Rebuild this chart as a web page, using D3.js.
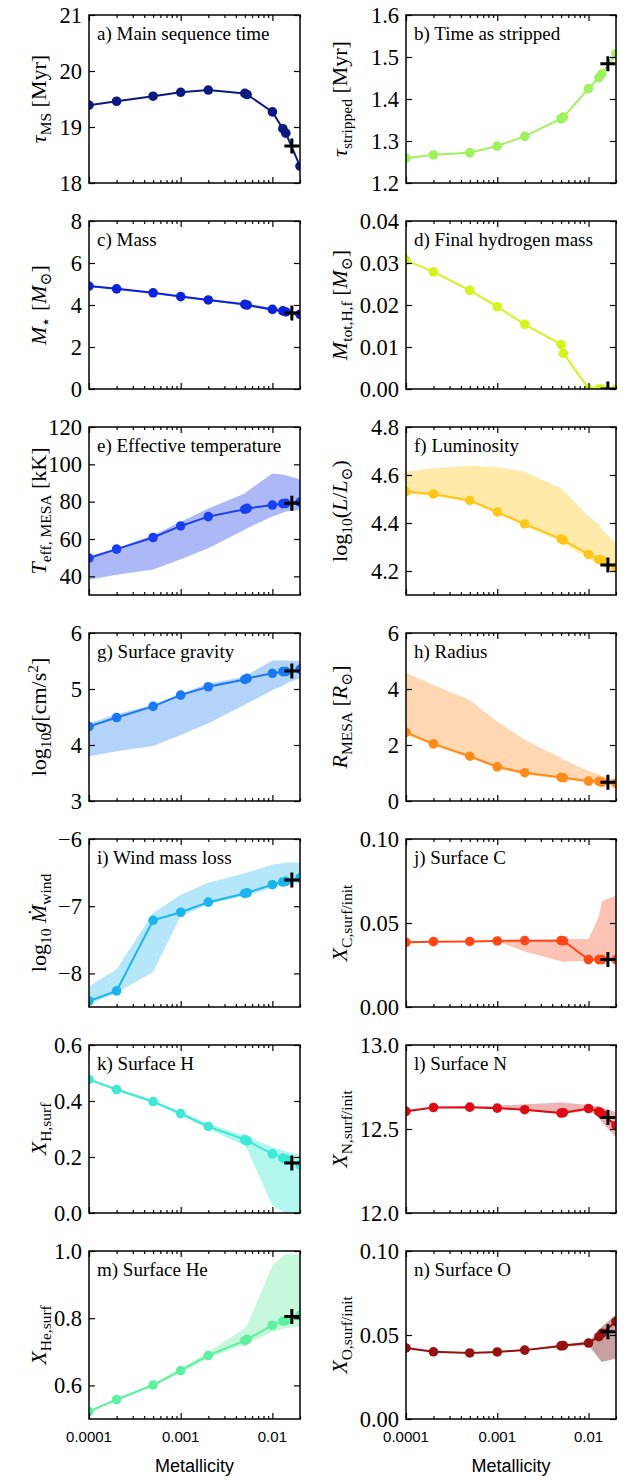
<!DOCTYPE html>
<html>
<head>
<meta charset="utf-8">
<script src="https://d3js.org/d3.v7.min.js"></script>
<style>
  body { margin: 0; background: #fff; }
  svg text { fill: #000; }
</style>
</head>
<body>
<svg id="chart"></svg>
<script>
// metallicities of the model grid, and of the reference model (the black plus)
var metallicity = [0.0001, 0.0002, 0.0005, 0.001, 0.002, 0.005, 0.0053, 0.01, 0.013, 0.014, 0.02],
    zRef = 0.0163;

var tauMS       = [19.39, 19.46, 19.55, 19.62, 19.66, 19.60, 19.58, 19.27, 18.97, 18.89, 18.30];
var tauStripped = [1.259, 1.267, 1.272, 1.288, 1.311, 1.353, 1.357, 1.425, 1.451, 1.460, 1.508];

var mass   = [4.90, 4.77, 4.58, 4.40, 4.24, 4.03, 4.00, 3.79, 3.72, 3.67, 3.56],
    massLo = [4.86, 4.73, 4.54, 4.36, 4.19, 3.97, 3.94, 3.72, 3.64, 3.58, 3.45],
    massHi = [4.94, 4.81, 4.62, 4.44, 4.29, 4.09, 4.06, 3.86, 3.80, 3.76, 3.67];

var mHfinal = [0.0307, 0.0279, 0.0235, 0.0196, 0.0154, 0.0106, 0.0085, 0.0001, 0.0, 0.0, 0.0];

var tEff   = [49.8, 54.6, 60.8, 67.0, 72.0, 75.9, 76.4, 78.2, 78.9, 79.1, 79.8],
    tEffLo = [38.2, 40.8, 43.6, 49.2, 55.1, 64.9, 65.8, 72.0, 74.0, 74.7, 75.6],
    tEffHi = [50.7, 55.0, 62.0, 69.3, 76.4, 84.4, 85.5, 95.1, 94.5, 94.2, 92.0];

var logL   = [4.531, 4.521, 4.494, 4.446, 4.396, 4.334, 4.329, 4.269, 4.248, 4.244, 4.215],
    logLLo = [4.521, 4.512, 4.486, 4.438, 4.386, 4.322, 4.316, 4.250, 4.228, 4.222, 4.186],
    logLHi = [4.614, 4.628, 4.639, 4.632, 4.614, 4.545, 4.535, 4.428, 4.395, 4.372, 4.317];

var logg   = [4.33, 4.49, 4.69, 4.89, 5.04, 5.17, 5.19, 5.28, 5.31, 5.31, 5.35],
    loggLo = [3.80, 3.89, 3.98, 4.18, 4.39, 4.72, 4.74, 4.98, 5.06, 5.10, 5.19],
    loggHi = [4.39, 4.55, 4.72, 4.92, 5.10, 5.22, 5.25, 5.51, 5.51, 5.51, 5.50];

var radius   = [2.45, 2.04, 1.60, 1.22, 1.01, 0.85, 0.83, 0.71, 0.70, 0.67, 0.63],
    radiusLo = [2.37, 1.97, 1.54, 1.15, 0.95, 0.78, 0.76, 0.65, 0.62, 0.60, 0.50],
    radiusHi = [4.58, 4.14, 3.61, 2.84, 2.19, 1.54, 1.48, 1.07, 0.95, 0.89, 0.77];

var mdot   = [-8.41, -8.26, -7.21, -7.09, -6.94, -6.81, -6.80, -6.68, -6.64, -6.63, -6.58],
    mdotLo = [-8.46, -8.29, -7.98, -7.15, -6.97, -6.85, -6.84, -6.73, -6.69, -6.68, -6.65],
    mdotHi = [-8.19, -7.94, -7.10, -6.83, -6.65, -6.51, -6.50, -6.38, -6.36, -6.35, -6.35];

var xC   = [0.0385, 0.0389, 0.0390, 0.0393, 0.0395, 0.0395, 0.0394, 0.0282, 0.0282, 0.0282, 0.0282],
    xCLo = [0.0385, 0.0389, 0.0390, 0.0390, 0.0331, 0.0272, 0.0270, 0.0275, 0.0275, 0.0276, 0.0276],
    xCHi = [0.0385, 0.0389, 0.0390, 0.0393, 0.0398, 0.0405, 0.0405, 0.0405, 0.0540, 0.0630, 0.0663];

var xH   = [0.477, 0.441, 0.398, 0.355, 0.309, 0.262, 0.258, 0.211, 0.196, 0.193, 0.172],
    xHLo = [0.474, 0.437, 0.393, 0.348, 0.300, 0.240, 0.228, 0.027, 0.005, 0.0, 0.0],
    xHHi = [0.479, 0.444, 0.402, 0.362, 0.320, 0.276, 0.272, 0.236, 0.224, 0.220, 0.208];

var xN   = [12.605, 12.628, 12.630, 12.624, 12.615, 12.595, 12.597, 12.622, 12.603, 12.589, 12.52],
    xNLo = [12.603, 12.625, 12.627, 12.620, 12.610, 12.590, 12.590, 12.609, 12.57, 12.54, 12.45],
    xNHi = [12.607, 12.630, 12.632, 12.638, 12.648, 12.658, 12.658, 12.642, 12.635, 12.630, 12.60];

var xHe   = [0.522, 0.558, 0.601, 0.644, 0.689, 0.733, 0.737, 0.779, 0.791, 0.793, 0.808],
    xHeLo = [0.520, 0.555, 0.597, 0.638, 0.680, 0.722, 0.724, 0.760, 0.768, 0.770, 0.775],
    xHeHi = [0.525, 0.561, 0.606, 0.651, 0.700, 0.770, 0.780, 0.955, 0.985, 0.990, 0.990];

var xO   = [0.0423, 0.0400, 0.0393, 0.0399, 0.0410, 0.0435, 0.0437, 0.0452, 0.049, 0.051, 0.058],
    xOLo = [0.0421, 0.0398, 0.0391, 0.0397, 0.0406, 0.0428, 0.0430, 0.0440, 0.036, 0.034, 0.036],
    xOHi = [0.0425, 0.0402, 0.0395, 0.0401, 0.0414, 0.0442, 0.0444, 0.0462, 0.052, 0.055, 0.062];

// value of the reference model in each panel, a) .. n)
var refValues = [18.66, 1.484, 3.62, 0.0, 79.1, 4.225, 5.32, 0.67, -6.61, 0.0282, 0.179, 12.569, 0.805, 0.052];

var panelTitles = ["a) Main sequence time", "b) Time as stripped", "c) Mass", "d) Final hydrogen mass",
                   "e) Effective temperature", "f) Luminosity", "g) Surface gravity", "h) Radius",
                   "i) Wind mass loss", "j) Surface C", "k) Surface H", "l) Surface N",
                   "m) Surface He", "n) Surface O"];

var yTicks = [[18, 19, 20, 21], [1.2, 1.3, 1.4, 1.5, 1.6], [0, 2, 4, 6, 8], [0, 0.01, 0.02, 0.03, 0.04],
              [40, 60, 80, 100, 120], [4.2, 4.4, 4.6, 4.8], [3, 4, 5, 6], [0, 2, 4, 6],
              [-8, -7, -6], [0, 0.05, 0.1], [0, 0.2, 0.4, 0.6], [12, 12.5, 13.0],
              [0.6, 0.8, 1.0], [0, 0.05, 0.1]];
var xTickLabels = [0.0001, 0.001, 0.01];

var panels = [
  {y: tauMS,       dom: [18, 21],     fmt: "d",   line: "#0b1a80"},
  {y: tauStripped, dom: [1.2, 1.6],   fmt: ".1f", line: "#9ff25e"},
  {y: mass, lo: massLo, hi: massHi, dom: [0, 8], fmt: "d", line: "#0c22dc", band: "#9aa4f2"},
  {y: mHfinal,     dom: [0, 0.04],    fmt: ".2f", line: "#d6f21c"},
  {y: tEff, lo: tEffLo, hi: tEffHi, dom: [30, 120], fmt: "d", line: "#1a3ff2", band: "#adb8f6"},
  {y: logL, lo: logLLo, hi: logLHi, dom: [4.1, 4.8], fmt: ".1f", line: "#ffc61a", band: "#ffeaa9"},
  {y: logg, lo: loggLo, hi: loggHi, dom: [3, 6], fmt: "d", line: "#1a78f5", band: "#b3d3fa"},
  {y: radius, lo: radiusLo, hi: radiusHi, dom: [0, 6], fmt: "d", line: "#ff8a1a", band: "#ffd8b3"},
  {y: mdot, lo: mdotLo, hi: mdotHi, dom: [-8.5, -6], fmt: "d", line: "#1ab4ee", band: "#b6e6f9"},
  {y: xC, lo: xCLo, hi: xCHi, dom: [0, 0.1], fmt: ".2f", line: "#ff4614", band: "#fcc3b4"},
  {y: xH, lo: xHLo, hi: xHHi, dom: [0, 0.6], fmt: ".1f", line: "#3de8d7", band: "#b3f6ee"},
  {y: xN, lo: xNLo, hi: xNHi, dom: [12, 13], fmt: ".1f", line: "#dc0a14", band: "#f0b3b3"},
  {y: xHe, lo: xHeLo, hi: xHeHi, dom: [0.5, 1.0], fmt: ".1f", line: "#5ef0a0", band: "#c8f8dc"},
  {y: xO, lo: xOLo, hi: xOHi, dom: [0, 0.1], fmt: ".2f", line: "#961010", band: "#c9a0a0"}
];

// y labels: [text, kind]  kind: "" roman, "i" italic, "s" subscript, "p" superscript
var yLabels = [
  [["τ", "i"], ["MS", "s"], [" [Myr]", ""]],
  [["τ", "i"], ["stripped", "s"], [" [Myr]", ""]],
  [["M", "i"], ["⋆", "s"], [" [", ""], ["M", "i"], ["⊙", "s"], ["]", ""]],
  [["M", "i"], ["tot,H,f", "s"], [" [", ""], ["M", "i"], ["⊙", "s"], ["]", ""]],
  [["T", "i"], ["eff, MESA", "s"], [" [kK]", ""]],
  [["log", ""], ["10", "s"], ["(", ""], ["L", "i"], ["/", ""], ["L", "i"], ["⊙", "s"], [")", ""]],
  [["log", ""], ["10", "s"], ["g", "i"], ["[cm/s", ""], ["2", "p"], ["]", ""]],
  [["R", "i"], ["MESA", "s"], [" [", ""], ["R", "i"], ["⊙", "s"], ["]", ""]],
  [["log", ""], ["10", "s"], [" Ṁ", "i"], ["wind", "s"]],
  [["X", "i"], ["C,surf/init", "s"]],
  [["X", "i"], ["H,surf", "s"]],
  [["X", "i"], ["N,surf/init", "s"]],
  [["X", "i"], ["He,surf", "s"]],
  [["X", "i"], ["O,surf/init", "s"]]
];

var width = 632, height = 1481,
    colLeft = [89, 406], colWidth = [211, 210],
    top0 = 15, rowStep = 206, plotH = 168,
    serif = "'Liberation Serif', 'DejaVu Serif', serif",
    sans = "'Liberation Sans', Arial, sans-serif";

var svg = d3.select("#chart").attr("width", width).attr("height", height);

// minor log ticks, only those inside the x range
var minorTicks = [];
[1e-4, 1e-3, 1e-2].forEach(function(d){
  for (var k = 2; k <= 9; k++) if (d * k <= 0.02) minorTicks.push(d * k);
});

function yLabel(g, parts, x, y) {
  var t = g.append("text")
    .attr("transform", "translate(" + x + "," + y + ") rotate(-90)")
    .attr("text-anchor", "middle")
    .style("font-family", serif)
    .style("font-size", "22px");
  var shift = 0;
  parts.forEach(function(p){
    var target = p[1] == "s" ? 5 : (p[1] == "p" ? -8 : 0);
    var ts = t.append("tspan").text(p[0]);
    if (target != shift) ts.attr("dy", target - shift);
    shift = target;
    if (p[1] == "s" || p[1] == "p") ts.style("font-size", "15.5px");
    if (p[1] == "i") ts.style("font-style", "italic");
  });
}

panels.forEach(function(p, i){
  var col = i % 2, row = Math.floor(i / 2),
      w = colWidth[col], h = plotH,
      g = svg.append("g").attr("transform", "translate(" + colLeft[col] + "," + (top0 + row * rowStep) + ")");

  var x = d3.scaleLog().domain([1e-4, 0.02]).range([0, w]),
      y = d3.scaleLinear().domain(p.dom).range([h, 0]);

  var clipId = "clip" + i;
  g.append("clipPath").attr("id", clipId)
    .append("rect").attr("width", w).attr("height", h);

  var data = metallicity.map(function(z, j){
    return {z: z, v: p.y[j], lo: p.lo ? p.lo[j] : null, hi: p.hi ? p.hi[j] : null};
  });

  var plot = g.append("g").attr("clip-path", "url(#" + clipId + ")");

  if (p.lo) {
    plot.append("path")
      .datum(data)
      .attr("fill", p.band)
      .attr("d", d3.area()
        .x(function(d){ return x(d.z); })
        .y0(function(d){ return y(d.lo); })
        .y1(function(d){ return y(d.hi); }));
  }

  plot.append("path")
    .datum(data)
    .attr("fill", "none")
    .attr("stroke", p.line)
    .attr("stroke-width", 2)
    .attr("d", d3.line()
      .x(function(d){ return x(d.z); })
      .y(function(d){ return y(d.v); }));

  plot.selectAll("circle")
    .data(data).enter()
    .append("circle")
      .attr("cx", function(d){ return x(d.z); })
      .attr("cy", function(d){ return y(d.v); })
      .attr("r", 4.8)
      .attr("fill", p.line);

  plot.append("path")
    .attr("transform", "translate(" + x(zRef) + "," + y(refValues[i]) + ")")
    .attr("d", "M-7.5,0H7.5M0,-7.5V7.5")
    .attr("stroke", "#000")
    .attr("stroke-width", 3);

  // axes, ticks pointing inwards on all four sides
  var axes = [
    {ax: d3.axisBottom(x), tr: "translate(0," + h + ")"},
    {ax: d3.axisTop(x), tr: null}
  ];
  axes.forEach(function(a){
    var major = g.append("g").attr("transform", a.tr)
      .call(a.ax.tickValues([1e-4, 1e-3, 1e-2]).tickSize(-6).tickFormat(""));
    major.select(".domain").remove();
    var minor = g.append("g").attr("transform", a.tr)
      .call(a.ax.tickValues(minorTicks).tickSize(-3).tickFormat(""));
    minor.select(".domain").remove();
  });

  var yl = g.append("g")
    .call(d3.axisLeft(y).tickValues(yTicks[i]).tickSize(-6).tickPadding(7).tickFormat(d3.format(p.fmt)));
  yl.select(".domain").remove();
  yl.selectAll("text").style("font-family", serif).style("font-size", "22.5px");

  var yr = g.append("g").attr("transform", "translate(" + w + ",0)")
    .call(d3.axisRight(y).tickValues(yTicks[i]).tickSize(-6).tickFormat(""));
  yr.select(".domain").remove();

  g.selectAll(".tick line").attr("stroke", "#000").attr("stroke-width", 1.2);

  g.append("rect")
    .attr("width", w).attr("height", h)
    .attr("fill", "none")
    .attr("stroke", "#000")
    .attr("stroke-width", 1.5);

  g.append("text")
    .attr("x", 8).attr("y", 25)
    .style("font-family", serif)
    .style("font-size", "19px")
    .text(panelTitles[i]);

  yLabel(g, yLabels[i], col == 0 ? -43 : -59, h / 2);

  if (row == 6) {
    g.selectAll(".xlab")
      .data(xTickLabels).enter()
      .append("text")
        .attr("class", "xlab")
        .attr("x", function(d){ return x(d); })
        .attr("y", h + 23)
        .attr("text-anchor", "middle")
        .style("font-family", sans)
        .style("font-size", "15px")
        .text(function(d){ return String(d); });

    g.append("text")
      .attr("x", w / 2)
      .attr("y", h + 53)
      .attr("text-anchor", "middle")
      .style("font-family", sans)
      .style("font-size", "18px")
      .text("Metallicity");
  }
});
</script>
</body>
</html>
